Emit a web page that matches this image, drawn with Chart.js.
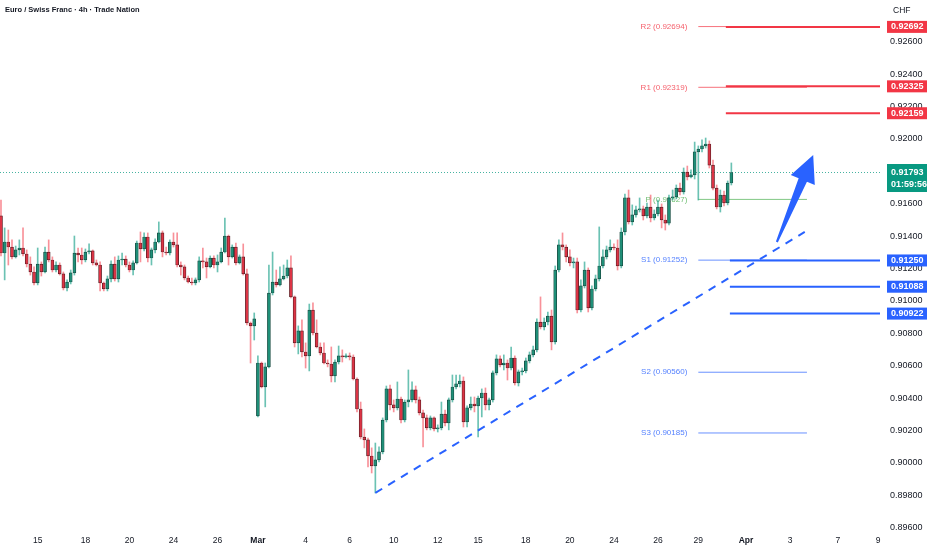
<!DOCTYPE html>
<html>
<head>
<meta charset="utf-8">
<script src="https://cdn.jsdelivr.net/npm/chart.js@4.4.1/dist/chart.umd.min.js"></script>
<style>
  html, body { margin: 0; padding: 0; background: #fff; }
  canvas { display: block; }
</style>
</head>
<body>
<canvas id="chart" width="932" height="550"></canvas>
<script>
// EUR/CHF 4h candles (oldest first)
const open = [
  0.91525,0.91296,0.91364,0.91333,0.91272,0.91315,0.91327,0.91290,0.91228,0.91179,
  0.91111,0.91228,0.91179,0.91302,0.91253,0.91191,0.91222,0.91167,0.91080,0.91117,
  0.91173,0.91296,0.91284,0.91253,0.91302,0.91309,0.91235,0.91222,0.91111,0.91074,
  0.91136,0.91228,0.91136,0.91253,0.91259,0.91222,0.91191,0.91235,0.91358,0.91321,
  0.91395,0.91265,0.91315,0.91364,0.91420,0.91302,0.91296,0.91364,0.91346,0.91222,
  0.91210,0.91142,0.91117,0.91111,0.91130,0.91247,0.91241,0.91210,0.91265,0.91222,
  0.91241,0.91302,0.91401,0.91272,0.91333,0.91235,0.91272,0.91167,0.90864,0.90846,
  0.90290,0.90617,0.90469,0.90593,0.91049,0.91117,0.91099,0.91136,0.91154,0.91204,
  0.91025,0.90741,0.90815,0.90685,0.90661,0.90944,0.90802,0.90716,0.90679,0.90617,
  0.90611,0.90537,0.90623,0.90661,0.90654,0.90661,0.90654,0.90518,0.90333,0.90160,
  0.90142,0.90043,0.89982,0.90019,0.90068,0.90265,0.90457,0.90358,0.90340,0.90395,
  0.90265,0.90376,0.90389,0.90451,0.90389,0.90309,0.90278,0.90216,0.90278,0.90210,
  0.90216,0.90302,0.90247,0.90389,0.90469,0.90488,0.90506,0.90253,0.90340,0.90364,
  0.90352,0.90401,0.90432,0.90358,0.90389,0.90556,0.90642,0.90605,0.90617,0.90586,
  0.90648,0.90494,0.90562,0.90568,0.90630,0.90667,0.90698,0.90870,0.90840,0.90870,
  0.90907,0.90747,0.91191,0.91346,0.91333,0.91272,0.91235,0.91241,0.90944,0.91093,
  0.91191,0.90957,0.91074,0.91136,0.91216,0.91272,0.91315,0.91333,0.91327,0.91216,
  0.91426,0.91636,0.91488,0.91531,0.91562,0.91568,0.91525,0.91580,0.91512,0.91537,
  0.91580,0.91500,0.91481,0.91636,0.91642,0.91697,0.91673,0.91796,0.91765,0.91778,
  0.91920,0.91938,0.91957,0.91969,0.91839,0.91697,0.91580,0.91654,0.91605,0.91728
];
const high = [
  0.91623,0.91451,0.91438,0.91377,0.91339,0.91377,0.91451,0.91315,0.91272,0.91210,
  0.91327,0.91241,0.91333,0.91377,0.91272,0.91241,0.91235,0.91179,0.91130,0.91191,
  0.91401,0.91327,0.91327,0.91321,0.91352,0.91315,0.91253,0.91241,0.91117,0.91154,
  0.91247,0.91272,0.91278,0.91296,0.91278,0.91241,0.91247,0.91370,0.91426,0.91420,
  0.91420,0.91327,0.91383,0.91488,0.91432,0.91333,0.91377,0.91420,0.91420,0.91241,
  0.91222,0.91154,0.91142,0.91142,0.91272,0.91327,0.91265,0.91278,0.91278,0.91284,
  0.91327,0.91512,0.91407,0.91346,0.91358,0.91284,0.91352,0.91197,0.90870,0.90926,
  0.90661,0.90623,0.90617,0.91222,0.91302,0.91191,0.91210,0.91222,0.91253,0.91278,
  0.91031,0.90846,0.90883,0.90741,0.90981,0.90988,0.90883,0.90741,0.90741,0.90636,
  0.90716,0.90636,0.90722,0.90698,0.90673,0.90679,0.90667,0.90525,0.90376,0.90210,
  0.90154,0.90093,0.90123,0.90099,0.90278,0.90475,0.90481,0.90389,0.90500,0.90407,
  0.90389,0.90574,0.90500,0.90475,0.90407,0.90327,0.90296,0.90290,0.90284,0.90235,
  0.90376,0.90327,0.90401,0.90543,0.90543,0.90543,0.90531,0.90352,0.90407,0.90407,
  0.90413,0.90457,0.90463,0.90401,0.90568,0.90667,0.90661,0.90667,0.90636,0.90716,
  0.90661,0.90574,0.90586,0.90648,0.90685,0.90722,0.90889,0.91025,0.90895,0.90932,
  0.90944,0.91216,0.91377,0.91420,0.91346,0.91315,0.91265,0.91265,0.91130,0.91241,
  0.91204,0.91093,0.91160,0.91457,0.91315,0.91339,0.91377,0.91352,0.91377,0.91451,
  0.91660,0.91685,0.91593,0.91586,0.91636,0.91586,0.91605,0.91654,0.91562,0.91623,
  0.91599,0.91531,0.91654,0.91685,0.91716,0.91728,0.91821,0.91833,0.91809,0.91981,
  0.91957,0.91994,0.92006,0.91988,0.91870,0.91716,0.91685,0.91679,0.91741,0.91852
];
const low = [
  0.91278,0.91130,0.91222,0.91259,0.91265,0.91284,0.91278,0.91210,0.91160,0.91099,
  0.91099,0.91154,0.91173,0.91241,0.91179,0.91179,0.91160,0.91068,0.91062,0.91105,
  0.91160,0.91241,0.91228,0.91241,0.91290,0.91222,0.91216,0.91062,0.91062,0.91062,
  0.91117,0.91123,0.91117,0.91222,0.91210,0.91179,0.91160,0.91228,0.91241,0.91309,
  0.91241,0.91222,0.91296,0.91358,0.91272,0.91284,0.91284,0.91333,0.91210,0.91160,
  0.91130,0.91111,0.91099,0.91099,0.91117,0.91204,0.91142,0.91204,0.91204,0.91179,
  0.91235,0.91296,0.91222,0.91265,0.91222,0.91228,0.91160,0.90852,0.90617,0.90759,
  0.90284,0.90463,0.90346,0.90586,0.91037,0.91086,0.91093,0.91130,0.91142,0.91018,
  0.90716,0.90673,0.90654,0.90586,0.90568,0.90790,0.90710,0.90667,0.90611,0.90593,
  0.90500,0.90500,0.90611,0.90623,0.90648,0.90636,0.90512,0.90315,0.90148,0.90093,
  0.89975,0.89938,0.89815,0.90006,0.90056,0.90253,0.90327,0.90315,0.90327,0.90247,
  0.90253,0.90346,0.90376,0.90370,0.90296,0.90099,0.90204,0.90204,0.90197,0.90191,
  0.90204,0.90228,0.90204,0.90376,0.90457,0.90469,0.90222,0.90222,0.90327,0.90315,
  0.90160,0.90284,0.90327,0.90327,0.90376,0.90543,0.90593,0.90574,0.90512,0.90574,
  0.90481,0.90475,0.90543,0.90556,0.90617,0.90654,0.90685,0.90827,0.90821,0.90852,
  0.90698,0.90734,0.91179,0.91315,0.91241,0.91216,0.91204,0.90926,0.90932,0.91080,
  0.90932,0.90944,0.91062,0.91123,0.91204,0.91259,0.91302,0.91315,0.91191,0.91204,
  0.91407,0.91475,0.91469,0.91518,0.91549,0.91500,0.91512,0.91488,0.91500,0.91525,
  0.91451,0.91438,0.91469,0.91623,0.91630,0.91654,0.91660,0.91747,0.91759,0.91753,
  0.91623,0.91920,0.91944,0.91821,0.91685,0.91568,0.91549,0.91586,0.91593,0.91716
];
const close = [
  0.91296,0.91364,0.91333,0.91272,0.91315,0.91327,0.91290,0.91228,0.91179,0.91111,
  0.91228,0.91179,0.91302,0.91253,0.91191,0.91222,0.91167,0.91080,0.91117,0.91173,
  0.91296,0.91284,0.91253,0.91302,0.91309,0.91235,0.91222,0.91111,0.91074,0.91136,
  0.91228,0.91136,0.91253,0.91259,0.91222,0.91191,0.91235,0.91358,0.91321,0.91395,
  0.91265,0.91315,0.91364,0.91420,0.91302,0.91296,0.91364,0.91346,0.91222,0.91210,
  0.91142,0.91117,0.91111,0.91130,0.91247,0.91241,0.91210,0.91265,0.91222,0.91241,
  0.91302,0.91401,0.91272,0.91333,0.91235,0.91272,0.91167,0.90864,0.90846,0.90889,
  0.90617,0.90469,0.90593,0.91049,0.91117,0.91099,0.91136,0.91154,0.91204,0.91025,
  0.90741,0.90815,0.90685,0.90661,0.90944,0.90802,0.90716,0.90679,0.90617,0.90611,
  0.90537,0.90623,0.90661,0.90654,0.90661,0.90654,0.90518,0.90333,0.90160,0.90142,
  0.90043,0.89982,0.90019,0.90068,0.90265,0.90457,0.90358,0.90340,0.90395,0.90265,
  0.90376,0.90389,0.90451,0.90389,0.90309,0.90278,0.90216,0.90278,0.90210,0.90216,
  0.90302,0.90247,0.90389,0.90469,0.90488,0.90506,0.90253,0.90340,0.90364,0.90352,
  0.90401,0.90432,0.90358,0.90389,0.90556,0.90642,0.90605,0.90617,0.90586,0.90648,
  0.90494,0.90562,0.90568,0.90630,0.90667,0.90698,0.90870,0.90840,0.90870,0.90907,
  0.90747,0.91191,0.91346,0.91333,0.91272,0.91235,0.91241,0.90944,0.91093,0.91191,
  0.90957,0.91074,0.91136,0.91216,0.91272,0.91315,0.91333,0.91327,0.91216,0.91426,
  0.91636,0.91488,0.91531,0.91562,0.91568,0.91525,0.91580,0.91512,0.91537,0.91580,
  0.91500,0.91481,0.91636,0.91642,0.91697,0.91673,0.91796,0.91765,0.91778,0.91920,
  0.91938,0.91957,0.91969,0.91839,0.91697,0.91580,0.91654,0.91605,0.91728,0.91793
];

// time axis: labels sit on the candle index where each day starts
const tickPos  = [10, 23, 35, 47, 59, 70, 83, 95, 107, 119, 130, 143, 155, 167, 179, 190, 203, 215, 228, 239];
const tickText = ['15','18','20','24','26','Mar','4','6','10','12','15','18','20','24','26','29','Apr','3','7','9'];
const yTicks = [0.896,0.898,0.900,0.902,0.904,0.906,0.908,0.910,0.912,0.914,0.916,0.918,0.920,0.922,0.924,0.926];

// weekly pivots (thin lines with labels)
const pivotNames  = ['R2', 'R1', 'P', 'S1', 'S2', 'S3'];
const pivotValues = [0.92694, 0.92319, 0.91627, 0.91252, 0.90560, 0.90185];
// horizontal levels with price tags
const resistLevels = [0.92692, 0.92325, 0.92159];
const supportLevels = [0.91250, 0.91088, 0.90922];
const lastPrice = 0.91793;
const countdown = '01:59:56';

// dashed trendline and the projection arrow (index, price)
const trendFrom = { x: 102, y: 0.89815 };
const trendTo   = { x: 219, y: 0.91426 };
const arrowFrom = { x: 211.4, y: 0.91364 };
const arrowTo   = { x: 221.3, y: 0.91901 };

const X_MIN = -0.27, X_MAX = 239.5;
const PIVOT_START = 190, PIVOT_END = 219.6, PIVOT_LABEL_AT = 187;
const RES_START = 197.5, SUP_START = 198.6;

const GREEN = '#089981', RED = '#f23645', BLUE = '#2962ff';
const FONT = '"Liberation Sans", Arial, sans-serif';

const idx = close.map((_, i) => i);
const isUp = i => close[i] >= open[i];

function hline(v, x0, x1, color, width, order, dash) {
  return {
    type: 'line',
    data: [{ x: x0, y: v }, { x: x1, y: v }],
    borderColor: color,
    borderWidth: width,
    borderDash: dash || [],
    pointRadius: 0,
    fill: false,
    order: order
  };
}

function pivotColor(n, a) {
  if (n[0] === 'R') return `rgba(242,54,69,${a})`;
  if (n[0] === 'P') return `rgba(76,175,80,${a})`;
  return `rgba(41,98,255,${a})`;
}

const datasets = [
  {
    type: 'line',
    data: [trendFrom, trendTo],
    borderColor: BLUE,
    borderWidth: 2,
    borderDash: [8, 7],
    pointRadius: 0,
    fill: false,
    order: 0
  },
  {
    data: idx.map(i => ({ x: i, y: [open[i], close[i]] })),
    backgroundColor: c => isUp(c.dataIndex) ? '#1f8f78' : '#dc3445',
    borderColor: c => isUp(c.dataIndex) ? '#17453c' : '#4a1a1f',
    borderWidth: 0.7,
    borderSkipped: false,
    barThickness: 3,
    minBarLength: 1,
    grouped: false,
    order: 1
  },
  {
    data: idx.map(i => ({ x: i, y: [low[i], high[i]] })),
    backgroundColor: c => isUp(c.dataIndex) ? 'rgba(8,153,129,0.6)' : 'rgba(242,54,69,0.55)',
    barThickness: 1,
    grouped: false,
    order: 2
  }
];

resistLevels.forEach(v => datasets.push(hline(v, RES_START, X_MAX, RED, 2, 3)));
supportLevels.forEach(v => datasets.push(hline(v, SUP_START, X_MAX, BLUE, 2, 3)));
pivotNames.forEach((n, k) => datasets.push(hline(pivotValues[k], PIVOT_START, PIVOT_END, pivotColor(n, 0.7), 1, 4)));
datasets.push(hline(lastPrice, X_MIN, X_MAX, 'rgba(8,153,129,0.75)', 1, 5, [1, 2]));

function tag(ctx, left, yc, lines, bg) {
  const h = lines.length === 1 ? 12 : 28;
  const top = lines.length === 1 ? yc - 6 : yc - 8.5;
  ctx.fillStyle = bg;
  ctx.fillRect(left, top, 40, h);
  ctx.fillStyle = '#fff';
  ctx.font = 'bold 9px ' + FONT;
  ctx.textAlign = 'left';
  ctx.textBaseline = 'middle';
  lines.forEach((t, k) => ctx.fillText(t, left + 4, yc + k * 12.5));
}

const overlay = {
  id: 'overlay',
  beforeDatasetsDraw(chart) {
    const { ctx, scales: { x, y } } = chart;
    ctx.save();
    ctx.font = '8px ' + FONT;
    ctx.textAlign = 'right';
    ctx.textBaseline = 'middle';
    pivotNames.forEach((n, k) => {
      ctx.fillStyle = pivotColor(n, 0.8);
      ctx.fillText(`${n} (${pivotValues[k].toFixed(5)})`,
        x.getPixelForValue(PIVOT_LABEL_AT), y.getPixelForValue(pivotValues[k]));
    });
    ctx.restore();
  },
  afterDatasetsDraw(chart) {
    const { ctx, scales: { x, y } } = chart;
    const x0 = x.getPixelForValue(arrowFrom.x), y0 = y.getPixelForValue(arrowFrom.y);
    const x1 = x.getPixelForValue(arrowTo.x), y1 = y.getPixelForValue(arrowTo.y);
    const len = Math.hypot(x1 - x0, y1 - y0);
    const ux = (x1 - x0) / len, uy = (y1 - y0) / len;
    const px = -uy, py = ux;
    const headLen = 27, headW = 13, shaftW = 4.5, tailW = 1;
    const bx = x1 - ux * headLen, by = y1 - uy * headLen;
    ctx.save();
    ctx.fillStyle = BLUE;
    ctx.beginPath();
    ctx.moveTo(x0 + px * tailW, y0 + py * tailW);
    ctx.lineTo(bx + px * shaftW, by + py * shaftW);
    ctx.lineTo(bx + px * headW, by + py * headW);
    ctx.lineTo(x1, y1);
    ctx.lineTo(bx - px * headW, by - py * headW);
    ctx.lineTo(bx - px * shaftW, by - py * shaftW);
    ctx.lineTo(x0 - px * tailW, y0 - py * tailW);
    ctx.closePath();
    ctx.fill();
    ctx.restore();
  },
  afterDraw(chart) {
    const { ctx, chartArea, scales: { y } } = chart;
    const left = chartArea.right + 7;
    ctx.save();
    resistLevels.forEach(v => tag(ctx, left, y.getPixelForValue(v), [v.toFixed(5)], RED));
    supportLevels.forEach(v => tag(ctx, left, y.getPixelForValue(v), [v.toFixed(5)], BLUE));
    tag(ctx, left, y.getPixelForValue(lastPrice), [lastPrice.toFixed(5), countdown], GREEN);

    ctx.fillStyle = '#131722';
    ctx.textAlign = 'left';
    ctx.textBaseline = 'middle';
    ctx.font = '8.5px ' + FONT;
    ctx.fillText('CHF', chartArea.right + 13, 11);
    ctx.font = 'bold 7.5px ' + FONT;
    ctx.fillText('Euro / Swiss Franc · 4h · Trade Nation', 5, 10);
    ctx.restore();
  }
};

new Chart(document.getElementById('chart'), {
  type: 'bar',
  data: { datasets: datasets },
  options: {
    responsive: false,
    animation: false,
    events: [],
    layout: { padding: 0 },
    plugins: { legend: { display: false }, tooltip: { enabled: false } },
    scales: {
      x: {
        type: 'linear',
        min: X_MIN,
        max: X_MAX,
        offset: false,
        grid: { display: false, drawTicks: false },
        border: { display: false },
        ticks: {
          autoSkip: false,
          maxRotation: 0,
          padding: 6,
          color: '#131722',
          font: c => ({ family: FONT, size: 8.5, weight: /[A-Za-z]/.test(tickText[c.index] || '') ? 'bold' : 'normal' }),
          callback: (v, i) => tickText[i]
        },
        afterBuildTicks: s => { s.ticks = tickPos.map(v => ({ value: v })); },
        afterFit: s => { s.height = 20; s.paddingLeft = 0; s.paddingRight = 0; }
      },
      y: {
        type: 'linear',
        position: 'right',
        min: 0.89586,
        max: 0.92858,
        grid: { display: false, drawTicks: false },
        border: { display: false },
        ticks: {
          padding: 10,
          color: '#131722',
          font: { family: FONT, size: 9 },
          callback: v => v.toFixed(5)
        },
        afterBuildTicks: s => { s.ticks = yTicks.map(v => ({ value: v })); },
        afterFit: s => { s.width = 52; s.paddingTop = 0; s.paddingBottom = 0; }
      }
    }
  },
  plugins: [overlay]
});
</script>
</body>
</html>
